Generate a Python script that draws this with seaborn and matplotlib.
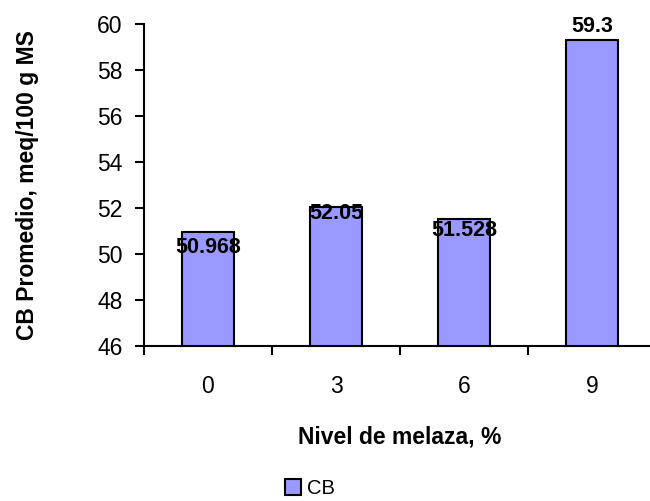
import matplotlib
matplotlib.use("Agg")
import matplotlib.pyplot as plt
import numpy as np
import pandas as pd
import seaborn as sns

# data
niveles = ["0", "3", "6", "9"]
cb_promedio = [50.968, 52.05, 51.528, 59.3]
etiquetas = ["50.968", "52.05", "51.528", "59.3"]

# vertical offset of each value label from the bar top (points), as in the original
label_offsets = [-11.5, -4.5, -8.5, 10]

BAR_COLOR = "#9999FF"

sns.set_style("white")
plt.rcParams["font.family"] = ["Liberation Sans", "DejaVu Sans"]
plt.rcParams["text.color"] = "black"
plt.rcParams["xtick.color"] = "black"
plt.rcParams["ytick.color"] = "black"
plt.rcParams["axes.labelcolor"] = "black"

df = pd.DataFrame({"nivel": niveles, "CB": cb_promedio})

fig = plt.figure(figsize=(6.5, 5.01), dpi=100)
ax = fig.add_axes([144 / 650, 155 / 501, 512 / 650, 322 / 501])

sns.barplot(data=df, x="nivel", y="CB", color=BAR_COLOR, saturation=1,
            width=0.41, edgecolor="black", linewidth=1.5, label="CB", ax=ax)

for i, (v, txt, off) in enumerate(zip(cb_promedio, etiquetas, label_offsets)):
    ax.annotate(txt, (i, v), xytext=(0, off), textcoords="offset points",
                ha="center", va="center", fontsize=15.5, fontweight="bold",
                annotation_clip=False)

ax.set_ylim(46, 60)
ax.set_yticks(np.arange(46, 61, 2))
ax.set_xlim(-0.5, 3.5)
ax.set_xticks(range(4))
ax.set_xticklabels(niveles)
ax.set_xticks(np.arange(-0.5, 4, 1), minor=True)

for side in ["top", "right"]:
    ax.spines[side].set_visible(False)
for side in ["left", "bottom"]:
    ax.spines[side].set_color("black")
    ax.spines[side].set_linewidth(1.5)

ax.tick_params(axis="y", which="major", direction="out", length=6.5, width=1.5,
               pad=9, labelsize=16.5, left=True)
ax.tick_params(axis="x", which="major", length=0, pad=21, labelsize=16.5)
ax.tick_params(axis="x", which="minor", direction="out", length=6.5, width=1.5,
               bottom=True)

ax.set_xlabel("Nivel de melaza, %", fontsize=16.5, fontweight="bold", labelpad=20)
ax.set_ylabel("CB Promedio, meq/100 g MS", fontsize=16.5, fontweight="bold", labelpad=42)

ax.legend(loc="center", bbox_to_anchor=(0.477, 0.025), bbox_transform=fig.transFigure,
          frameon=False, fontsize=14.5, handlelength=0.8, handleheight=0.8,
          handletextpad=0.3)

fig.savefig("out.png", dpi=100)
